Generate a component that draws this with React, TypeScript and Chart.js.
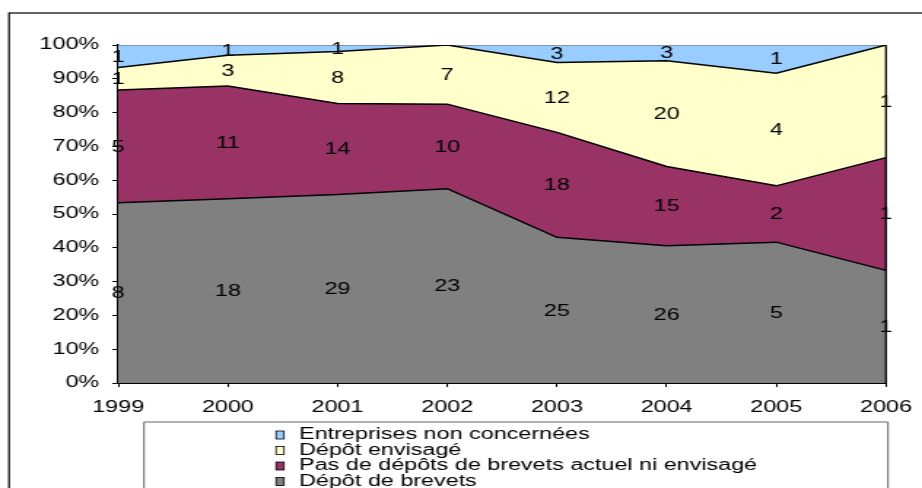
import { useEffect, useRef } from "react";
import { Chart, registerables } from "chart.js";

Chart.register(...registerables);

// Survey years
const years = ["1999", "2000", "2001", "2002", "2003", "2004", "2005", "2006"];

// Number of companies per answer, per year
const depotBrevets = [8, 18, 29, 23, 25, 26, 5, 1];
const pasDeDepot = [5, 11, 14, 10, 18, 15, 2, 1];
const depotEnvisage = [1, 3, 8, 7, 12, 20, 4, 1];
const nonConcernees = [1, 1, 1, 0, 3, 3, 1, 0];

// Series, from the bottom of the stack upwards
const seriesNames = [
  "Dépôt de brevets",
  "Pas de dépôts de brevets actuel ni envisagé",
  "Dépôt envisagé",
  "Entreprises non concernées",
];
const seriesCounts = [depotBrevets, pasDeDepot, depotEnvisage, nonConcernees];
const seriesColors = ["#808080", "#993366", "#FFFFCC", "#99CCFF"];
const seriesLineColors = ["#000000", "#000000", "#000000", "#808080"];

const FONT = "'Liberation Sans', Arial, sans-serif";

// The drawing is laid out on a narrow canvas, then stretched to the page width.
const CANVAS_W = 632;
const CANVAS_H = 488;
const PAGE_W = 922;

const totals = years.map((_, j) => seriesCounts.reduce((s, c) => s + c[j], 0));
const sharePct = (counts: number[]) => counts.map((v, j) => (v / totals[j]) * 100);

const framePlugin = {
  id: "frame",
  beforeDraw(chart: any) {
    const { ctx, width, height } = chart;
    ctx.save();
    ctx.fillStyle = "#ffffff";
    ctx.fillRect(0, 0, width, height);
    ctx.strokeStyle = "#000000";
    ctx.lineWidth = 1.2;
    ctx.strokeRect(6.2, 13, width + 20, height + 20);
    ctx.restore();
  },
};

const edgePlugin = {
  id: "rightEdge",
  afterDatasetsDraw(chart: any) {
    const { ctx, chartArea } = chart;
    ctx.save();
    ctx.strokeStyle = "#000000";
    ctx.lineWidth = 1.3;
    ctx.beginPath();
    ctx.moveTo(chartArea.right, chartArea.top);
    ctx.lineTo(chartArea.right, chartArea.bottom);
    ctx.stroke();
    ctx.restore();
  },
};

const valueLabelPlugin = {
  id: "valueLabels",
  afterDraw(chart: any) {
    const { ctx } = chart;
    const yScale = chart.scales.y;
    ctx.save();
    ctx.font = `16px ${FONT}`;
    ctx.fillStyle = "#000000";
    ctx.textAlign = "center";
    ctx.textBaseline = "middle";
    chart.data.datasets.forEach((_: any, i: number) => {
      const meta = chart.getDatasetMeta(i);
      const below = i > 0 ? chart.getDatasetMeta(i - 1) : null;
      meta.data.forEach((pt: any, j: number) => {
        const n = seriesCounts[i][j];
        if (!n) return;
        const bottom = below ? below.data[j].y : yScale.getPixelForValue(0);
        ctx.fillText(String(n), pt.x, (pt.y + bottom) / 2 + 1);
      });
    });
    ctx.restore();
  },
};

const boxLegendPlugin = {
  id: "boxLegend",
  afterDraw(chart: any) {
    const { ctx, height } = chart;
    const left = 98.7;
    const right = 608.7;
    const top = 422;
    ctx.save();
    ctx.strokeStyle = "#666666";
    ctx.lineWidth = 1;
    ctx.beginPath();
    ctx.moveTo(left, height + 5);
    ctx.lineTo(left, top);
    ctx.lineTo(right, top);
    ctx.lineTo(right, height + 5);
    ctx.stroke();

    ctx.font = `16px ${FONT}`;
    ctx.textAlign = "left";
    ctx.textBaseline = "middle";
    const items = chart.data.datasets.slice().reverse();
    items.forEach((ds: any, i: number) => {
      const cy = 435 + i * 15.5;
      ctx.fillStyle = ds.backgroundColor;
      ctx.fillRect(189.2, cy - 4, 5.5, 8);
      ctx.strokeStyle = "#000000";
      ctx.lineWidth = 0.8;
      ctx.strokeRect(189.2, cy - 4, 5.5, 8);
      ctx.fillStyle = "#000000";
      ctx.fillText(ds.label, 205, cy);
    });
    ctx.restore();
  },
};

export default function App() {
  const canvasRef = useRef<HTMLCanvasElement | null>(null);

  useEffect(() => {
    const canvas = canvasRef.current;
    if (!canvas) return;
    const chart = new Chart(canvas, {
      type: "line",
      data: {
        labels: years,
        datasets: seriesNames.map((name, i) => ({
          label: name,
          data: sharePct(seriesCounts[i]),
          backgroundColor: seriesColors[i],
          borderColor: seriesLineColors[i],
          borderWidth: 1.5,
          pointRadius: 0,
          tension: 0,
          fill: i === 0 ? "origin" : "-1",
        })),
      },
      options: {
        animation: false,
        responsive: false,
        devicePixelRatio: 1,
        events: [],
        layout: { padding: { left: 21, right: 24.7, top: 45, bottom: 65 } },
        plugins: {
          legend: { display: false },
          tooltip: { enabled: false },
        },
        scales: {
          x: {
            type: "category",
            offset: false,
            grid: {
              display: true,
              drawOnChartArea: false,
              drawTicks: true,
              tickLength: 4,
              tickColor: "#000000",
            },
            border: { display: true, color: "#000000", width: 2 },
            ticks: {
              color: "#000000",
              font: { family: FONT, size: 16 },
              padding: 11,
              maxRotation: 0,
              autoSkip: false,
            },
            afterFit(scale: any) {
              scale.height = 40;
              // end labels may overhang into the outer margins
              scale.paddingLeft = 0;
              scale.paddingRight = 0;
            },
          },
          y: {
            stacked: true,
            min: 0,
            max: 100,
            grid: {
              display: true,
              drawOnChartArea: false,
              drawTicks: true,
              tickLength: 4,
              tickColor: "#000000",
            },
            border: { display: true, color: "#000000", width: 1.4 },
            ticks: {
              stepSize: 10,
              color: "#000000",
              font: { family: FONT, size: 16 },
              padding: 9,
              callback: (v: any) => `${v}%`,
            },
            afterFit(scale: any) {
              scale.width = 60;
            },
          },
        },
      },
      plugins: [framePlugin, edgePlugin, valueLabelPlugin, boxLegendPlugin],
    } as any);
    return () => chart.destroy();
  }, []);

  return (
    <div
      style={{
        position: "fixed",
        left: 0,
        top: 0,
        width: PAGE_W,
        height: CANVAS_H,
        overflow: "hidden",
        background: "#ffffff",
      }}
    >
      <canvas
        ref={canvasRef}
        width={CANVAS_W}
        height={CANVAS_H}
        style={{ display: "block", width: `${PAGE_W}px`, height: `${CANVAS_H}px` }}
      />
    </div>
  );
}
